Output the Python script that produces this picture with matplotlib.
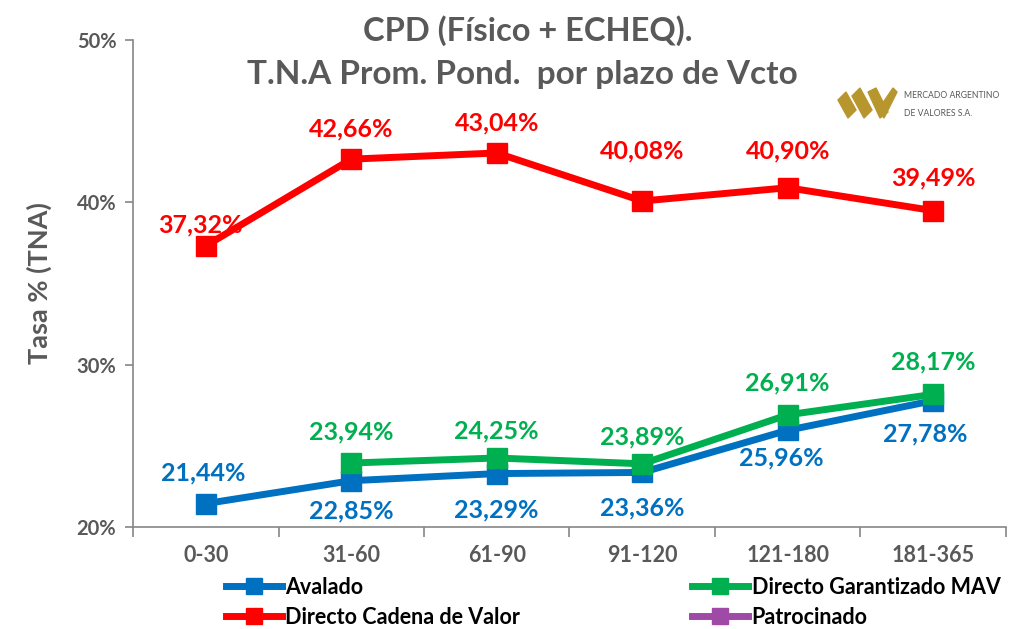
import numpy as np
import matplotlib
matplotlib.use("Agg")
import matplotlib.pyplot as plt
from matplotlib.lines import Line2D
from matplotlib.patches import Polygon

plt.rcParams['font.family'] = ['Lato', 'DejaVu Sans']

# datos
plazos = ["0-30", "31-60", "61-90", "91-120", "121-180", "181-365"]
avalado = [21.44, 22.85, 23.29, 23.36, 25.96, 27.78]
garantizado = [np.nan, 23.94, 24.25, 23.89, 26.91, 28.17]
cadena = [37.32, 42.66, 43.04, 40.08, 40.90, 39.49]
patrocinado = [np.nan] * 6

azul = "#0070C0"
verde = "#00B050"
rojo = "#FF0000"
violeta = "#A04AA8"
gris = "#595959"

fig = plt.figure(figsize=(10.10, 6.29), dpi=100)
ax = fig.add_axes([0.1317, 0.1622, 0.8643, 0.7742])

x = np.arange(len(plazos))
estilo = dict(lw=5, marker="s", markersize=14)
ax.plot(x, patrocinado, color=violeta, **estilo)
ax.plot(x, avalado, color=azul, **estilo)
ax.plot(x, cadena, color=rojo, **estilo)
ax.plot(x, garantizado, color=verde, **estilo)

def fmt(v):
    return ("%.2f%%" % v).replace(".", ",")

# desplazamientos de etiquetas (pixeles)
off_cadena = [(-5, 21), (0, 30), (0, 30), (0, 50), (0, 37), (0, 33)]
off_avalado = [(-3, 31), (0, -30), (0, -36), (0, -35), (-6, -28), (-8, -33)]
off_garant = [(0, 31), (0, 31), (0, 27), (0, 27), (0, 32), (0, 32)]

for serie, offs, col in [(cadena, off_cadena, rojo), (avalado, off_avalado, azul),
                         (garantizado, off_garant, verde)]:
    for i, v in enumerate(serie):
        if np.isnan(v):
            continue
        ax.annotate(fmt(v), (x[i], v), xytext=(offs[i][0] * 0.72, offs[i][1] * 0.72),
                    textcoords="offset points", ha="center", va="center",
                    color=col, fontsize=18, fontweight="bold")

ax.set_xlim(-0.5, 5.5)
ax.set_ylim(20, 50)
ax.set_yticks([20, 30, 40, 50])
ax.set_yticklabels(["20%", "30%", "40%", "50%"])
ax.set_xticks(x)
ax.set_xticklabels(plazos)
ax.set_xticks(np.arange(-0.5, 6, 1), minor=True)
ax.tick_params(axis="x", which="major", length=0, pad=13, labelsize=15.5, labelcolor=gris)
ax.tick_params(axis="x", which="minor", length=7, color="#868686", width=1.2)
ax.tick_params(axis="y", length=6, color="#868686", width=1.2, labelsize=14.5, labelcolor=gris, pad=6)
for t in ax.get_xticklabels() + ax.get_yticklabels():
    t.set_fontweight("bold")
for s in ["top", "right"]:
    ax.spines[s].set_visible(False)
for s in ["left", "bottom"]:
    ax.spines[s].set_color("#868686")
    ax.spines[s].set_linewidth(1.2)

ax.set_ylabel("Tasa % (TNA)", fontsize=19.5, fontweight="bold", color=gris, labelpad=18)

fig.text(0.523, 0.952, "CPD (Físico + ECHEQ).", ha="center", va="center",
         fontsize=23.5, fontweight="bold", color=gris)
fig.text(0.517, 0.881, "T.N.A Prom. Pond.  por plazo de Vcto", ha="center", va="center",
         fontsize=24, fontweight="bold", color=gris)

# logo MAV aproximado
oro = "#B8962E"
px = lambda a, b: (a / 1010, 1 - b / 629)
for pts in [[(838, 100), (846, 92), (856, 110), (848, 118)],
            [(852, 96), (860, 88), (872, 110), (864, 118)],
            [(868, 92), (876, 88), (888, 112), (880, 118)],
            [(878, 110), (893, 88), (897, 92), (884, 118)]]:
    fig.add_artist(Polygon([px(*p) for p in pts], closed=True, color=oro, transform=fig.transFigure))
fig.text(904 / 1010, 1 - 96 / 629, "MERCADO ARGENTINO", fontsize=6.2, color=gris, va="center")
fig.text(904 / 1010, 1 - 113 / 629, "DE VALORES S.A.", fontsize=6.2, color=gris, va="center")

# leyenda
def h(c):
    return Line2D([], [], color=c, lw=5, marker="s", markersize=12)

leg = fig.legend([h(azul), h(rojo), h(verde), h(violeta)],
                 ["Avalado", "Directo Cadena de Valor", "Directo Garantizado MAV", "Patrocinado"],
                 ncol=2, loc="upper left", bbox_to_anchor=(226 / 1010, 1 - 577 / 629),
                 frameon=False, fontsize=15.5, handlelength=2.6, handletextpad=0.15,
                 columnspacing=8.0, labelspacing=0.4, borderpad=0, borderaxespad=0)
for t in leg.get_texts():
    t.set_fontweight("bold")

fig.savefig("out.png", dpi=100)
